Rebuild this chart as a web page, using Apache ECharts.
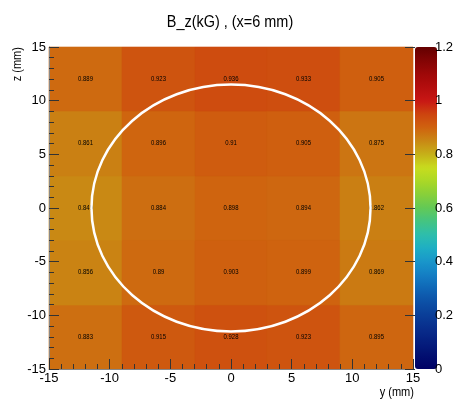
<!DOCTYPE html>
<html><head><meta charset="utf-8">
<script src="https://cdn.jsdelivr.net/npm/echarts@6/dist/echarts.min.js"></script>
<style>html,body{margin:0;padding:0;background:#fff}#c{width:456px;height:400px}</style>
</head><body><div id="c"></div>
<script>
// Bin edges (mm)
const yEdges = [-15, -9, -3, 3, 9, 15];   // horizontal axis: y (mm)
const zEdges = [-15, -9, -3, 3, 9, 15];   // vertical axis: z (mm)
// B_z values (kG), one array per z row, listed left to right in y
const row_zm12 = [0.883, 0.915, 0.928, 0.923, 0.895];
const row_zm6  = [0.856, 0.89, 0.903, 0.899, 0.869];
const row_z0   = [0.849, 0.884, 0.898, 0.894, 0.862];
const row_z6   = [0.861, 0.896, 0.91, 0.905, 0.875];
const row_z12  = [0.889, 0.923, 0.936, 0.933, 0.905];
const rows = [row_zm12, row_zm6, row_z0, row_z6, row_z12]; // bottom to top
// Reference circle (mm)
const circleCenter = [0, 0];
const circleRadius = 11.5;
// Colour scale range
const scaleMin = 0, scaleMax = 1.2, scaleStep = 0.2;
const title = 'B_z(kG) , (x=6 mm)';
const xName = 'y (mm)';
const yName = 'z (mm)';

const F = '"Liberation Sans", Arial, sans-serif';

const cells = [];
rows.forEach((row, j) => row.forEach((v, i) => {
  cells.push([yEdges[i], yEdges[i + 1], zEdges[j], zEdges[j + 1], v]);
}));

const palette = [
  'rgb(0,0,100)','rgb(2,15,112)','rgb(5,30,126)','rgb(8,45,140)','rgb(10,62,152)',
  'rgb(12,80,166)','rgb(15,102,182)','rgb(20,126,196)','rgb(25,150,202)','rgb(30,174,196)',
  'rgb(45,190,172)','rgb(68,196,130)','rgb(98,201,86)','rgb(135,207,58)','rgb(170,216,38)',
  'rgb(200,220,30)','rgb(198,176,24)','rgb(201,136,20)','rgb(207,98,15)','rgb(205,68,15)',
  'rgb(200,22,20)','rgb(180,14,14)','rgb(158,8,8)','rgb(130,4,4)','rgb(100,0,0)'
];

const tickStyle = {color: '#333', width: 1};
const labelStyle = {color: '#000', fontSize: 13, fontFamily: F};

const chart = echarts.init(document.getElementById('c'), null, {renderer: 'canvas'});
chart.setOption({
  animation: false,
  backgroundColor: '#fff',
  grid: [
    {left: 49, right: 43, top: 47, bottom: 31},
    {left: 415, top: 47, width: 22, height: 322}
  ],
  xAxis: [
    {
      type: 'value', gridIndex: 0, min: -15, max: 15, interval: 5, z: 10,
      axisLine: {show: true, onZero: false, lineStyle: {color: '#888'}},
      axisTick: {show: true, inside: true, length: 10, lineStyle: tickStyle},
      minorTick: {show: true, splitNumber: 5, length: 5, lineStyle: tickStyle},
      splitLine: {show: false}, minorSplitLine: {show: false},
      axisLabel: Object.assign({margin: 3}, labelStyle)
    },
    {type: 'value', gridIndex: 1, show: false, min: 0, max: 1}
  ],
  yAxis: [
    {
      type: 'value', gridIndex: 0, min: -15, max: 15, interval: 5, z: 10,
      axisLine: {show: true, onZero: false, lineStyle: {color: '#888'}},
      axisTick: {show: true, inside: true, length: 10, lineStyle: tickStyle},
      minorTick: {show: true, splitNumber: 5, length: 5, lineStyle: tickStyle},
      splitLine: {show: false}, minorSplitLine: {show: false},
      axisLabel: Object.assign({margin: 3}, labelStyle)
    },
    {
      type: 'value', gridIndex: 1, position: 'right', min: scaleMin, max: scaleMax, interval: scaleStep, z: 10,
      axisLine: {show: false},
      axisTick: {show: true, inside: true, length: 10, lineStyle: tickStyle},
      splitLine: {show: false},
      axisLabel: Object.assign({margin: 2}, labelStyle)
    }
  ],
  visualMap: {
    type: 'continuous', min: scaleMin, max: scaleMax, seriesIndex: 0, dimension: 4,
    left: 415, top: 47, itemWidth: 22, itemHeight: 322, padding: 0,
    calculable: false, hoverLink: false, text: null, showLabel: false,
    inRange: {color: palette}
  },
  series: [
    {
      type: 'custom', xAxisIndex: 0, yAxisIndex: 0,
      encode: {x: [0, 1], y: [2, 3]},
      data: cells,
      renderItem: function (params, api) {
        const p0 = api.coord([api.value(0), api.value(3)]).map(Math.round);
        const p1 = api.coord([api.value(1), api.value(2)]).map(Math.round);
        const v = api.value(4);
        const col = api.visual('color');
        return {
          type: 'group',
          children: [
            {type: 'rect', shape: {x: p0[0], y: p0[1], width: p1[0] - p0[0], height: p1[1] - p0[1]},
             style: {fill: col, stroke: col, lineWidth: 0.6}},
            {type: 'text', x: (p0[0] + p1[0]) / 2, y: (p0[1] + p1[1]) / 2, z2: 5,
             style: {text: String(v), fill: '#000', fontSize: 7, fontFamily: F,
                     align: 'center', verticalAlign: 'middle'}, scaleX: 0.85}
          ]
        };
      }
    },
    {
      type: 'custom', xAxisIndex: 0, yAxisIndex: 0, z: 5,
      encode: {x: 0, y: 1},
      data: [[circleCenter[0], circleCenter[1], circleRadius]],
      renderItem: function (params, api) {
        const c = api.coord([api.value(0), api.value(1)]);
        const s = api.size([api.value(2), api.value(2)]);
        return {
          type: 'ellipse',
          shape: {cx: c[0], cy: c[1], rx: s[0], ry: s[1]},
          style: {fill: 'none', stroke: '#fff', lineWidth: 2.5}
        };
      }
    }
  ],
  graphic: [
    {type: 'text', x: 230, y: 22, scaleX: 0.85,
     style: {text: title, fill: '#000', fontSize: 17, fontFamily: F, align: 'center', verticalAlign: 'middle'}},
    {type: 'text', x: 17, y: 47, rotation: Math.PI / 2, scaleX: 0.85,
     style: {text: yName, fill: '#000', fontSize: 13, fontFamily: F, align: 'right', verticalAlign: 'middle'}},
    {type: 'text', x: 414, y: 392, scaleX: 0.85,
     style: {text: xName, fill: '#000', fontSize: 13, fontFamily: F, align: 'right', verticalAlign: 'middle'}}
  ]
});
</script>
</body></html>
